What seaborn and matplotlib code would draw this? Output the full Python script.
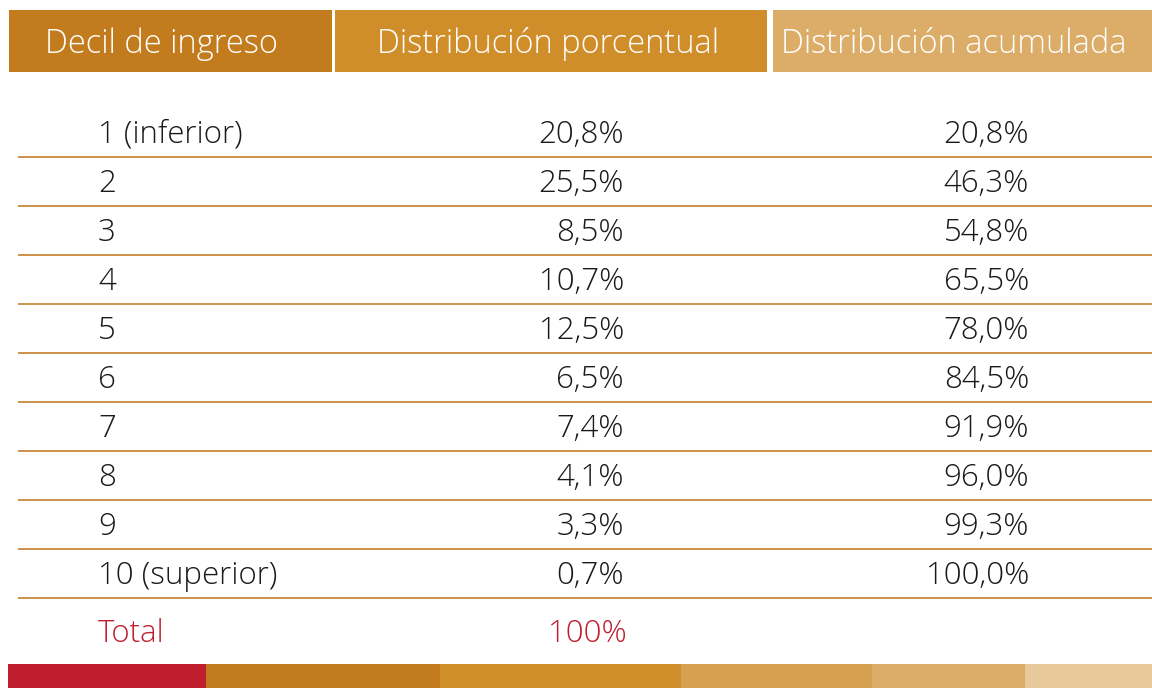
import seaborn as sns
import matplotlib.pyplot as plt
from matplotlib.patches import Rectangle

# data
deciles = ["1 (inferior)", "2", "3", "4", "5", "6", "7", "8", "9", "10 (superior)"]
dist_pct = [20.8, 25.5, 8.5, 10.7, 12.5, 6.5, 7.4, 4.1, 3.3, 0.7]
dist_acum = [20.8, 46.3, 54.8, 65.5, 78.0, 84.5, 91.9, 96.0, 99.3, 100.0]
headers = ["Decil de ingreso", "Distribución porcentual", "Distribución acumulada"]
total_label = "Total"
total_value = "100%"

sns.set_theme(style="white")
plt.rcParams['font.family'] = ['Open Sans', 'DejaVu Sans']
FW = 300
FS = 22.5

fig = plt.figure(figsize=(11.52, 6.88), dpi=100)
ax = fig.add_axes([0, 0, 1, 1])
ax.set_xlim(0, 1152)
ax.set_ylim(688, 0)
ax.axis("off")

fmt = lambda v: f"{v:.1f}%".replace(".", ",")

# header boxes
hdr_colors = ["#C27C1E", "#D08E2B", "#DCAD69"]
hdr_x = [(9, 332), (335, 767), (773, 1152)]
hdr_off = [-9, -3, -9]
for (x0, x1), c, h, off in zip(hdr_x, hdr_colors, headers, hdr_off):
    ax.add_patch(Rectangle((x0, 10), x1 - x0, 62, color=c, lw=0))
    ax.text((x0 + x1) / 2 + off, 44, h, color="white", fontsize=23.5, fontweight=FW,
            ha="center", va="center")

# rows
y0, step = 135, 49
for i, (d, p, a) in enumerate(zip(deciles, dist_pct, dist_acum)):
    y = y0 + i * step
    ax.text(98, y, d, ha="left", va="center", fontsize=FS, fontweight=FW, color="#1a1a1a")
    ax.text(624, y, fmt(p), ha="right", va="center", fontsize=FS, fontweight=FW, color="#1a1a1a")
    ax.text(1029, y, fmt(a), ha="right", va="center", fontsize=FS, fontweight=FW, color="#1a1a1a")
    ax.hlines(y0 + i * step + 22, 18, 1152, color="#C98A3E", lw=1.3)

ax.text(98, 634, total_label, ha="left", va="center", fontsize=FS, fontweight=FW, color="#C01F2F")
ax.text(627, 634, total_value, ha="right", va="center", fontsize=FS, fontweight=FW, color="#C01F2F")

# bottom color strip
strip = [(8, 206, "#BF1E2E"), (206, 440, "#C27C1E"), (440, 681, "#D08E2B"),
         (681, 872, "#D6A050"), (872, 1025, "#DCAD69"), (1025, 1152, "#E8C99A")]
for x0, x1, c in strip:
    ax.add_patch(Rectangle((x0, 664), x1 - x0, 24, color=c, lw=0))

fig.savefig("out.png", dpi=100)
